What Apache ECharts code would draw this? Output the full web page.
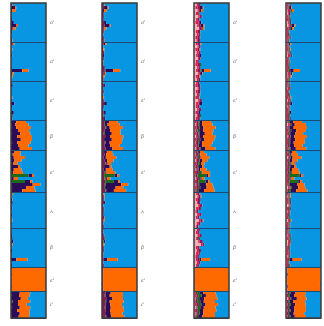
<!DOCTYPE html>
<html><head><meta charset="utf-8">
<script src="https://cdn.jsdelivr.net/npm/echarts@6/dist/echarts.min.js"></script>
<style>html,body{margin:0;padding:0;background:#fff}#c{width:324px;height:326px}</style>
</head><body><div id="c"></div>
<script>
// population sizes (rows) and labels
const popSizes = [13,13,13,10,14,12,13,8,9];
const popLabels = ["a'","a'","ɛ'","β","ɛ'","ʌ","β","ɛ'","ɪ'"];

// Panel A: green, purple, orange (blue = remaining membership)
const A_green = [
0,0,0,0,0,0,0,0,0,0,0,0,0,
0,0,0,0,0,0,0,2,0,2,0,0,0,
0,0,0,0,0,1,0,0,0,0,0,3,0,
0,2,3,0,2,0,0,3,0,0,
0,0,0,0,2,0,0,3,50,3,40,2,3,2,
0,0,0,0,0,0,0,0,0,0,0,0,
0,0,0,3,2,0,0,0,0,0,0,0,0,
0,0,0,0,0,0,0,0,
0,3,0,5,0,3,0,0,2];
const A_purple = [
3,12,4,2,2,3,8,16,5,3,2,2,3,
5,1,0,1,4,1,0,0,2,30,4,0,1,
2,5,0,2,0,0,2,10,3,0,8,2,4,
15,10,12,20,25,18,28,15,20,25,
10,5,8,10,5,20,8,3,10,5,15,60,40,30,
2,1,3,5,2,4,1,3,2,1,2,1,
1,2,3,2,4,2,1,3,2,1,15,2,3,
2,1,2,1,0,1,2,1,
25,20,28,15,20,22,18,25,20];
const A_orange = [
2,3,10,0,0,0,0,4,8,0,0,0,2,
5,0,4,0,0,0,0,0,0,18,4,5,0,
0,0,0,0,0,3,0,0,0,0,0,0,0,
28,38,42,32,28,42,32,38,30,35,
18,22,32,20,12,6,22,28,6,12,6,22,24,38,
4,2,1,0,0,0,0,0,1,3,0,0,
0,0,0,0,0,3,0,0,0,0,32,0,0,
98,99,98,99,100,99,98,99,
30,30,20,35,25,30,35,28,30];

// Panel B: maroon, green, purple, orange
const B_maroon = [
4,6,3,5,4,3,6,8,4,5,3,4,5,
5,3,4,6,3,5,4,3,6,8,5,3,4,
4,6,3,5,4,3,5,6,4,3,5,4,6,
8,6,10,7,5,9,6,8,7,10,
6,8,5,7,10,6,5,8,6,7,9,8,6,10,
3,5,4,6,3,4,5,3,6,4,3,5,
4,3,5,6,4,3,5,4,3,4,5,3,4,
2,3,2,3,2,3,2,3,
10,8,12,9,10,8,11,9,10];
const B_green = [
0,0,0,0,0,0,0,0,0,0,0,0,0,
0,0,0,0,0,0,0,2,0,2,0,0,0,
0,0,0,0,0,1,0,0,0,0,0,2,0,
0,2,2,0,3,0,0,2,0,0,
0,0,0,0,2,0,0,3,30,3,25,2,3,2,
0,0,0,0,0,0,0,0,0,0,0,0,
0,0,0,2,2,0,0,0,0,0,0,0,0,
0,0,0,0,0,0,0,0,
0,2,0,3,0,2,0,0,2];
const B_purple = [
2,10,3,1,2,2,6,14,3,2,1,2,2,
4,1,0,1,3,1,0,0,2,22,3,0,1,
1,4,0,1,0,0,2,8,2,0,6,2,3,
12,8,10,16,20,14,22,12,16,20,
8,4,6,8,4,16,6,2,8,4,12,45,30,22,
1,1,2,4,1,3,1,2,1,1,1,1,
1,1,2,2,3,1,1,2,1,1,10,1,2,
1,1,1,1,0,1,1,1,
15,12,18,10,14,15,12,16,14];
const B_orange = [
2,3,8,0,0,0,0,3,6,0,0,0,1,
4,0,3,0,0,0,0,0,0,20,3,4,0,
0,0,0,0,0,2,0,0,0,0,0,0,0,
25,35,38,30,25,38,30,35,28,30,
15,20,30,18,10,5,20,25,5,10,5,20,22,35,
3,2,1,0,0,0,0,0,1,3,0,0,
0,0,0,0,0,3,0,0,0,0,30,0,0,
97,96,97,96,98,96,97,96,
35,38,30,40,33,36,40,34,38];

// Panel C: pink, red, maroon, green, purple, orange
const C_pink = [
8,4,10,5,12,6,4,9,14,5,8,4,7,
5,10,4,8,6,11,5,4,9,6,12,5,8,
6,4,10,5,8,4,12,6,5,9,4,8,5,
3,5,2,4,3,6,2,4,3,5,
2,4,3,5,2,3,4,2,3,5,2,4,3,2,
6,10,5,8,12,6,4,9,5,14,8,5,
8,5,10,6,12,20,5,8,6,4,5,8,6,
0,0,0,0,0,0,0,0,
2,3,4,2,3,5,2,4,3];
const C_red = [
4,6,3,7,4,5,9,4,3,6,5,7,4,
6,3,7,5,4,3,6,7,4,5,3,6,4,
5,7,3,6,4,5,3,7,6,4,5,3,6,
4,3,5,2,4,3,5,2,4,3,
3,2,4,3,5,2,3,4,2,3,4,3,5,2,
5,4,6,3,5,7,4,6,5,4,6,3,
4,6,5,3,4,5,6,4,7,5,4,6,3,
1,0,1,0,1,0,1,0,
3,4,2,3,5,2,4,3,2];
const C_maroon = [
5,7,4,3,6,5,4,6,5,7,4,5,6,
4,6,5,4,7,5,3,6,4,7,5,4,6,
5,4,6,7,4,5,6,4,5,7,4,6,5,
6,5,8,4,6,5,7,6,5,8,
5,6,4,7,5,6,4,8,5,6,7,5,6,4,
4,5,6,4,7,5,4,6,5,7,4,5,
5,4,6,5,7,4,5,6,4,5,7,4,5,
2,1,2,1,2,1,2,1,
4,5,3,4,6,3,5,4,3];
const C_green = [
0,0,0,2,0,0,0,0,0,0,2,0,0,
0,0,0,0,0,0,0,3,0,4,0,0,0,
0,0,0,0,2,0,0,0,0,0,0,3,0,
3,4,2,5,3,2,4,3,2,3,
2,3,4,2,5,3,2,8,25,5,20,3,4,6,
0,0,0,0,0,0,0,0,0,0,0,0,
0,0,0,3,0,0,0,0,0,0,0,0,0,
0,0,0,0,0,0,0,0,
8,10,6,9,7,8,6,5,4];
const C_purple = [
2,8,3,0,2,0,4,8,3,0,0,2,0,
3,0,0,2,3,0,0,0,2,8,3,0,0,
0,3,0,0,0,0,2,6,0,0,4,0,2,
8,6,10,12,15,10,12,8,10,14,
5,3,4,6,3,10,5,2,6,3,8,20,18,15,
1,0,2,3,0,2,0,1,0,0,1,0,
0,1,2,0,2,0,0,2,0,0,5,0,1,
1,1,1,1,0,1,1,1,
10,12,14,10,12,10,9,11,12];
const C_orange = [
0,2,6,0,0,0,0,3,5,0,0,0,0,
3,0,2,0,0,0,0,0,0,18,2,3,0,
0,0,0,0,0,2,0,0,0,0,0,0,0,
25,30,35,28,22,35,28,30,25,28,
12,18,25,15,10,5,18,22,5,8,5,18,20,30,
2,2,0,0,0,0,0,0,0,2,0,0,
0,0,0,0,0,0,0,0,0,0,25,0,0,
96,97,96,98,97,98,96,98,
35,30,38,32,36,34,38,33,36];

// Panel D: gold, pink, red, maroon, green, purple, orange
const D_gold = [
0,0,0,3,0,0,0,4,0,0,0,0,0,
0,0,0,0,3,0,0,0,0,0,0,2,0,
0,0,0,0,0,0,3,0,0,0,0,0,0,
0,3,0,0,0,2,0,0,0,0,
0,0,2,0,0,0,0,0,0,0,0,0,3,0,
0,0,0,0,2,0,0,0,0,0,0,0,
0,0,0,0,4,0,0,0,0,0,0,0,0,
0,0,0,0,0,0,0,0,
0,0,3,0,0,0,0,0,0];
const D_pink = [
3,2,4,2,3,2,5,3,2,3,2,3,2,
2,3,2,4,2,3,2,2,3,2,4,2,3,
3,2,4,2,3,2,2,3,4,2,3,2,3,
2,3,2,2,3,2,3,2,2,3,
2,2,3,2,2,3,2,2,2,3,2,2,3,2,
3,4,2,3,5,2,4,3,2,6,3,2,
3,2,4,3,2,5,3,2,3,4,2,3,2,
0,0,0,0,0,0,0,0,
2,1,2,1,2,1,2,1,2];
const D_red = [
4,3,5,3,4,6,3,4,5,3,4,5,3,
3,4,5,3,4,3,5,4,3,4,5,3,4,
4,3,5,4,3,5,4,3,4,5,3,4,3,
3,4,3,5,3,4,3,4,3,4,
3,4,3,4,3,3,4,3,4,3,4,3,4,3,
4,3,5,4,3,4,5,3,4,3,4,5,
4,3,4,5,3,4,3,4,5,3,4,3,4,
1,1,1,1,1,1,1,1,
3,2,3,2,3,2,3,2,3];
const D_maroon = [
3,2,3,4,2,3,2,3,4,2,3,2,3,
2,3,2,3,4,2,3,2,3,2,3,4,2,
3,2,3,2,3,4,2,3,2,3,2,3,4,
3,4,3,4,3,4,3,3,4,3,
3,4,3,3,4,3,3,4,3,3,4,3,3,4,
2,3,2,3,2,3,2,3,2,3,2,3,
3,2,3,2,3,2,3,2,3,2,3,2,3,
1,1,1,1,1,1,1,1,
4,3,4,3,4,3,4,3,4];
const D_green = [
2,2,3,2,2,3,2,2,3,2,2,3,2,
2,2,3,2,2,2,3,3,2,4,2,2,3,
2,3,2,2,3,2,2,3,2,2,3,3,2,
3,3,2,4,3,2,3,3,2,3,
3,2,3,2,4,3,2,6,30,4,25,3,4,5,
2,2,3,2,2,3,2,2,3,2,2,3,
2,3,2,4,2,2,3,2,2,3,2,2,3,
0,0,0,0,0,0,0,0,
4,5,3,4,5,3,4,3,4];
const D_purple = [
2,6,2,0,2,0,3,8,3,0,0,2,0,
3,0,0,2,3,0,0,0,2,10,3,0,0,
0,3,0,0,0,0,2,6,0,0,5,0,2,
10,8,12,14,15,10,14,10,12,15,
6,4,5,7,3,12,6,2,5,3,6,22,18,15,
1,0,2,3,0,2,0,1,0,0,1,0,
0,1,2,0,2,0,0,2,0,0,8,0,1,
2,2,3,2,1,2,3,2,
14,12,16,10,12,14,11,13,12];
const D_orange = [
0,2,6,0,0,0,0,3,5,0,0,0,0,
3,0,2,0,0,0,0,0,0,18,2,3,0,
0,0,0,0,0,2,0,0,0,0,0,0,0,
25,32,38,28,22,36,28,32,25,30,
12,18,25,15,10,5,18,22,5,8,5,20,20,32,
2,2,0,0,0,0,0,0,0,2,0,0,
0,0,0,0,0,0,0,0,0,0,25,0,0,
95,94,93,95,96,93,94,95,
30,32,28,35,30,34,33,30,32];

const COL = {
  gold:'#eea21c', pink:'#f6b0b8', red:'#e31b4f', maroon:'#8c1a52',
  green:'#1c6b1c', purple:'#2c0b58', orange:'#ff6a00', blue:'#0896e2'
};
const panels = [
  {keys:['green','purple','orange'], data:[A_green,A_purple,A_orange]},
  {keys:['maroon','green','purple','orange'], data:[B_maroon,B_green,B_purple,B_orange]},
  {keys:['pink','red','maroon','green','purple','orange'], data:[C_pink,C_red,C_maroon,C_green,C_purple,C_orange]},
  {keys:['gold','pink','red','maroon','green','purple','orange'], data:[D_gold,D_pink,D_red,D_maroon,D_green,D_purple,D_orange]}
];
const lefts = [11,102,194,286];
const PW = 35, TOP = 3, PH = 315;

const N = popSizes.reduce((a,b)=>a+b,0);
const rows = Array.from({length:N},(_,i)=>String(i));
const starts = []; const mids = {};
let acc = 0;
popSizes.forEach((s,k)=>{ starts.push(acc); mids[acc+Math.floor(s/2)] = popLabels[k]; acc += s; });

const grid=[], xAxis=[], yAxis=[], series=[];
panels.forEach((p,pi)=>{
  grid.push({left:lefts[pi], top:TOP, width:PW, height:PH, show:true, backgroundColor:'transparent',
    borderColor:'#3a3a3a', borderWidth:1.5, z:8, outerBoundsMode:'none', containLabel:false});
  xAxis.push({gridIndex:pi, type:'value', min:0, max:100, show:false});
  yAxis.push({gridIndex:pi, type:'category', data:rows, inverse:true, position:'right', z:6,
    axisLine:{show:false}, axisTick:{show:false},
    splitLine:{show:true, interval:(i)=> i>0 && starts.indexOf(i)>=0, lineStyle:{color:'#1d4a72', width:1}},
    axisLabel:{show:true, interval:(i)=> mids[i]!==undefined, formatter:(v,i)=> mids[i]||'',
      margin:4, fontSize:5, fontStyle:'italic', color:'#666', fontFamily:'DejaVu Serif',
      hideOverlap:false}});
  p.keys.forEach((k,ki)=>{
    series.push({type:'bar', name:k, stack:'s'+pi, xAxisIndex:pi, yAxisIndex:pi,
      barWidth:'100%', barCategoryGap:0,
      itemStyle:{color:COL[k], borderWidth:0},
      silent:true, animation:false, data:p.data[ki]});
  });
  const rest = rows.map((_,r)=> Math.max(0, 100 - p.data.reduce((s,a)=>s+a[r],0)));
  series.push({type:'bar', name:'blue', stack:'s'+pi, xAxisIndex:pi, yAxisIndex:pi,
    barWidth:'100%', barCategoryGap:0,
    itemStyle:{color:COL.blue, borderWidth:0},
    silent:true, animation:false, data:rest});
});

const chart = echarts.init(document.getElementById('c'), null, {renderer:'canvas'});
chart.setOption({animation:false, grid, xAxis, yAxis, series});
</script></body></html>
